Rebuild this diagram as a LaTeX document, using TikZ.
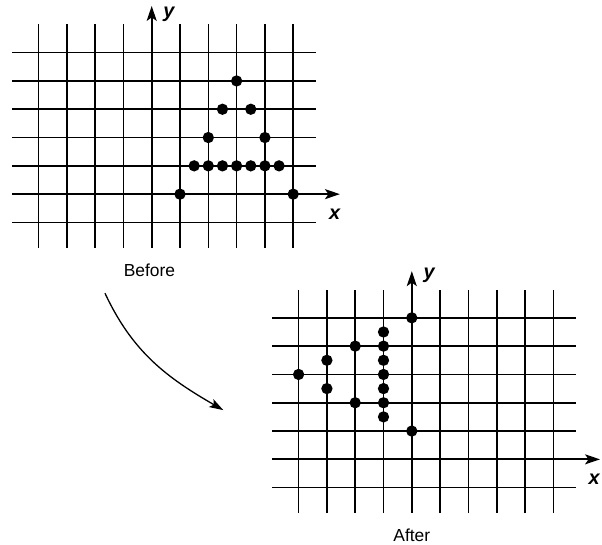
\documentclass[tikz,border=0pt]{standalone}
\usepackage{fontspec}
\setmainfont{Liberation Sans}
\usetikzlibrary{arrows.meta,positioning}
\begin{document}
\begin{tikzpicture}[>={Stealth[length=15pt,width=10pt,inset=3.5pt]},
	gridline/.style={line width=1.6pt},
	axisline/.style={line width=2pt,->},
	axislabel/.style={font=\fontsize{20}{22}\selectfont\bfseries\itshape},
	caption/.style={font=\fontsize{17.5}{20}\selectfont}]
	
	\def\r{0.2}
	\def\pts{1/0,5/0,1.5/1,2/1,2.5/1,3/1,3.5/1,4/1,4.5/1,2/2,4/2,2.5/3,3.5/3,3/4}
	\useasboundingbox (-5.36,-12.37) rectangle (15.91,6.86);
	
	% before
	\begin{scope}
		\foreach \x in {-4,...,-1,1,2,...,5}\draw[gridline] (\x,-1.9)--(\x,6);
		\foreach \y in {-1,1,2,...,5}\draw[gridline] (-4.93,\y)--(5.8,\y);
		\draw[axisline] (-4.93,0)--(6.65,0);
		\draw[axisline] (0,-1.9)--(0,6.65);
		\node[axislabel] (xb) at (6.46,-0.71) {x};
		\node[axislabel] (yb) at (0.61,6.36) {y};
		\foreach \px/\py in \pts \fill (\px,\py) circle (\r);
		\node[caption] (before) at (-0.08,-2.69) {Before};
	\end{scope}
	
	% after: turned a quarter turn
	\begin{scope}[shift={(9.19,-9.37)}]
		\foreach \x in {-4,...,-1,1,2,...,5}\draw[gridline] (\x,-1.9)--(\x,6);
		\foreach \y in {-1,1,2,...,5}\draw[gridline] (-4.93,\y)--(5.8,\y);
		\draw[axisline] (-4.93,0)--(6.65,0);
		\draw[axisline] (0,-1.9)--(0,6.65);
		\node[axislabel] (xa) at (6.44,-0.71) {x};
		\node[axislabel] (ya) at (0.61,6.5) {y};
		\foreach \px/\py in \pts \fill (-\py,\px) circle (\r);
		\node[caption] (after) at (0,-2.67) {After};
	\end{scope}
	
	\coordinate (from) at (-1.65,-3.5);
	\coordinate (to) at (2.53,-7.63);
	\draw[->,line width=1.3pt,>={Stealth[length=14pt,width=9pt,inset=3pt]}] (from) to[out=-65,in=150] (to);
	
\end{tikzpicture}
\end{document}
